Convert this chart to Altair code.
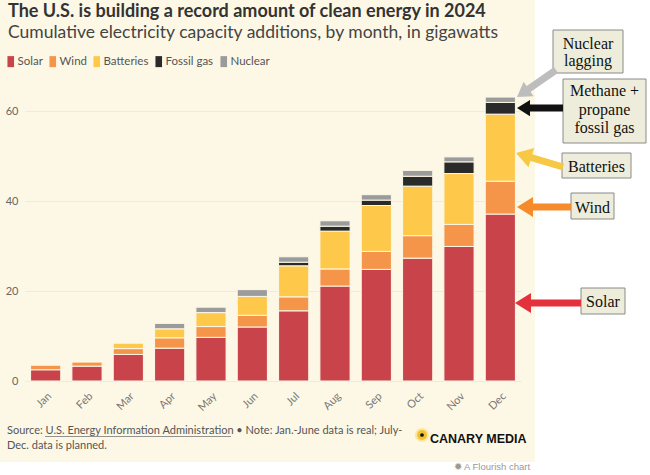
import altair as alt
import pandas as pd

# ---------------- data ----------------
months = ["Jan", "Feb", "Mar", "Apr", "May", "Jun", "Jul", "Aug", "Sep", "Oct", "Nov", "Dec"]
sources = ["Solar", "Wind", "Batteries", "Fossil gas", "Nuclear"]
solar = [2.5, 3.3, 5.9, 7.3, 9.7, 12.0, 15.6, 21.1, 24.8, 27.3, 29.9, 37.1]
wind = [1.0, 0.9, 1.3, 2.3, 2.4, 2.6, 3.1, 3.8, 4.0, 5.0, 4.9, 7.3]
batteries = [0, 0, 1.2, 2.0, 3.1, 4.2, 6.9, 8.4, 10.2, 11.0, 11.3, 14.9]
fossil_gas = [0, 0, 0, 0, 0, 0, 0.8, 1.1, 1.2, 2.2, 2.6, 2.6]
nuclear = [0, 0, 0, 1.2, 1.2, 1.5, 1.2, 1.2, 1.2, 1.3, 1.1, 1.2]
y_ticks = [0, 20, 40, 60]
colors = ["#C8444A", "#F5954A", "#FEC94B", "#2A2A2A", "#9B9B9B"]

title_text = "The U.S. is building a record amount of clean energy in 2024"
subtitle_text = "Cumulative electricity capacity additions, by month, in gigawatts"
footer1 = "Source: U.S. Energy Information Administration \u2022 Note: Jan.-June data is real; July-"
footer2 = "Dec. data is planned."

series = [solar, wind, batteries, fossil_gas, nuclear]
rows = []
for si, (name, vals) in enumerate(zip(sources, series)):
    for m, v in zip(months, vals):
        if v > 0:
            rows.append({"month": m, "source": name, "value": v, "order": si})
df = pd.DataFrame(rows)

CREAM = "#FDF8E6"
FONT = "Lato"
one = pd.DataFrame({"k": [0]})


def base():
    return alt.Chart(one)


def rect(x, x2, y, y2, **kw):
    return base().mark_rect(**kw).encode(
        x=alt.value(x), x2=alt.value(x2), y=alt.value(y), y2=alt.value(y2))


def text(t, x, y, **kw):
    return base().mark_text(text=t, **kw).encode(x=alt.value(x), y=alt.value(y))


def rule(x, y, x2, y2, **kw):
    return base().mark_rule(**kw).encode(
        x=alt.value(x), y=alt.value(y), x2=alt.value(x2), y2=alt.value(y2))


def head(x, y, angle, size, color):
    return base().mark_point(
        shape="M0,0L2,-1.25L2,1.25Z", filled=True, size=size, angle=angle,
        color=color, opacity=1, strokeWidth=0).encode(x=alt.value(x), y=alt.value(y))


# ---------------- bars ----------------
bars = alt.Chart(df).mark_bar(stroke=CREAM, strokeWidth=1).encode(
    x=alt.X("month:N", sort=months,
            scale=alt.Scale(paddingInner=0.27, paddingOuter=0.135),
            axis=alt.Axis(title=None, labelAngle=-45, labelFontSize=11, labelColor="#777",
                          labelFont=FONT, ticks=False, domain=False, labelPadding=9)),
    y=alt.Y("value:Q", stack="zero",
            scale=alt.Scale(domain=[0, 66], nice=False),
            axis=alt.Axis(title=None, values=y_ticks, grid=True, gridColor="#F1EAD5",
                          domain=False, ticks=False, labelPadding=7, labelFontSize=11,
                          labelColor="#666", labelFont=FONT)),
    color=alt.Color("source:N", scale=alt.Scale(domain=sources, range=colors),
                    legend=alt.Legend(title=None, orient="none", legendX=-20, legendY=-28.5,
                                      direction="horizontal",
                                      symbolType="M-0.6,-1H0.6V1H-0.6Z",
                                      symbolSize=121, symbolStrokeWidth=0,
                                      labelFontSize=11.5, labelColor="#555", labelFont=FONT,
                                      labelOffset=1, columnPadding=4, padding=0)),
    order=alt.Order("order:Q"),
)

# ---------------- background pieces ----------------
white_right = rect(510, 625, -84, 391, color="white")
white_bottom = rect(-25, 510, 378, 391, color="white")

# ---------------- titles ----------------
title = text(title_text, -17, -67, align="left", baseline="alphabetic",
             font=FONT, fontSize=18, fontWeight="bold", color="#333")
subtitle = text(subtitle_text, -17, -46, align="left", baseline="alphabetic",
                font=FONT, fontSize=17.5, color="#444")

# ---------------- footer ----------------
f1 = text(footer1, -18, 350, align="left", baseline="alphabetic", font=FONT,
          fontSize=11, color="#555")
f2 = text(footer2, -18, 365, align="left", baseline="alphabetic", font=FONT,
          fontSize=11, color="#555")
underline = rule(20, 352.5, 206, 352.5, color="#777", strokeWidth=0.8)
halo = base().mark_point(filled=True, size=200, color="#FBE7A0", opacity=1).encode(
    x=alt.value(397), y=alt.value(351))
dot_y = base().mark_point(filled=True, size=100, color="#F2C230", opacity=1).encode(
    x=alt.value(397), y=alt.value(351))
dot_b = base().mark_point(filled=True, size=14, color="#111", opacity=1).encode(
    x=alt.value(397), y=alt.value(351))
canary = text("CANARY MEDIA", 405, 359, align="left", baseline="alphabetic",
              font="Liberation Sans", fontSize=12.5, fontWeight="bold", color="#111")
flourish = text("\u2739 A Flourish chart", 429, 386, align="left", baseline="alphabetic",
                font="Liberation Sans", fontSize=9.5, color="#999")

# ---------------- annotations ----------------
SERIF = "Liberation Serif"
BOXFILL = "#EEEDDB"
ann = []
boxes = [
    (528, 598, -54, -11), (538, 621, -5, 59), (537, 606, 69, 94),
    (546, 589, 109, 135), (556, 600, 204, 230),
]
for (x1, x2, y1, y2) in boxes:
    ann.append(rect(x1, x2, y1, y2, fill=BOXFILL, stroke="#8A8A8A", strokeWidth=1))

ann.append(text("Nuclear\nlagging", 563, -35, align="center", baseline="alphabetic",
                lineBreak="\n", lineHeight=17, font=SERIF, fontSize=16, color="#111"))
ann.append(text("Methane +\npropane\nfossil gas", 579.5, 12, align="center",
                baseline="alphabetic", lineBreak="\n", lineHeight=18.5, font=SERIF,
                fontSize=16, color="#111"))
ann.append(text("Batteries", 571.5, 87.7, align="center", baseline="alphabetic",
                font=SERIF, fontSize=16, color="#111"))
ann.append(text("Wind", 567.5, 128.7, align="center", baseline="alphabetic",
                font=SERIF, fontSize=16, color="#111"))
ann.append(text("Solar", 578, 223, align="center", baseline="alphabetic",
                font=SERIF, fontSize=16, color="#111"))

arrows = [
    # tip x, tip y, shaft start x, y, tail x, y, angle, head size, colour
    (492, 13, 500.2, 7.3, 531, -14, 325.3, 200, "#BDBDBD"),
    (492, 24, 501, 24, 538, 24, 0, 169, "#111111"),
    (491, 69, 500.6, 71.9, 538, 83, 16.6, 256, "#F7C843"),
    (492, 123, 502, 123, 546, 123, 0, 256, "#F68B2C"),
    (490, 219, 500, 219, 556, 219, 0, 256, "#E3313D"),
]
for (tx, ty, sx, sy, ex, ey, ang, sz, col) in arrows:
    ann.append(rule(sx, sy, ex, ey, color=col, strokeWidth=7, strokeCap="butt"))
    ann.append(head(tx, ty, ang, sz, col))

chart = alt.layer(
    white_right, white_bottom, bars, title, subtitle, f1, f2, underline,
    halo, dot_y, dot_b, canary, flourish, *ann
).properties(
    width=496, height=297,
    autosize=alt.AutoSizeParams(type="none"),
    padding={"left": 25, "top": 84, "right": 129, "bottom": 94},
    background=CREAM,
).configure_view(stroke=None)

chart.save("out.html", embed_options={"renderer": "svg", "actions": False})
